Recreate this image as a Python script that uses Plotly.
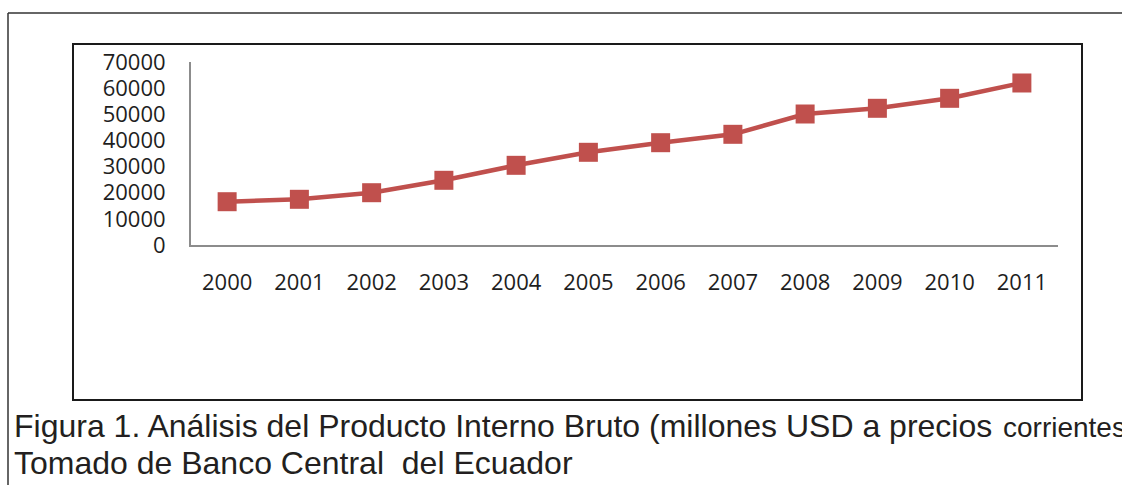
import plotly.graph_objects as go

years = ["2000", "2001", "2002", "2003", "2004", "2005", "2006", "2007", "2008", "2009", "2010", "2011"]
pib = [16560, 17480, 20000, 24750, 30480, 35460, 39130, 42340, 50110, 52290, 56110, 61970]
y_ticks = [0, 10000, 20000, 30000, 40000, 50000, 60000, 70000]

caption_1 = "Figura 1. Análisis del Producto Interno Bruto (millones USD a precios "
caption_1b = "corrientes)"
caption_2 = "Tomado de Banco Central  del Ecuador"
top_title = "Producto Interno Bruto"

W, H = 1122, 485
L, R, T, B = 191, 1058, 62, 245  # plot area in pixels


def px(x):
    return (x - L) / (R - L)


def py(y):
    return (B - y) / (B - T)


RED = "#C0504D"
tick_font = dict(family="Open Sans", size=22, color="#1e1e1e")

fig = go.Figure()
fig.add_trace(go.Scatter(
    x=years, y=pib, mode="lines+markers",
    line=dict(color=RED, width=4.5),
    marker=dict(symbol="square", size=19, color=RED),
    showlegend=False, cliponaxis=False,
))

fig.update_layout(
    width=W, height=H, autosize=False,
    margin=dict(l=L, r=W - R, t=T, b=H - B, pad=0),
    paper_bgcolor="white", plot_bgcolor="white",
    xaxis=dict(type="category", range=[-0.5, 11.5], showline=True,
               linecolor="#8c8c8c", linewidth=2, showgrid=False, zeroline=False,
               ticks="", tickfont=tick_font, ticklabelstandoff=17, fixedrange=True),
    yaxis=dict(range=[0, 70000], tickvals=y_ticks, tickformat="d", showline=True,
               linecolor="#8c8c8c", linewidth=2, showgrid=False, zeroline=False,
               ticks="", tickfont=tick_font, ticklabelstandoff=19, fixedrange=True),
)

# frames
fig.add_shape(type="rect", xref="paper", yref="paper",
              x0=px(73), x1=px(1082), y0=py(44), y1=py(400),
              line=dict(color="#1a1a1a", width=2), layer="below")
fig.add_shape(type="line", xref="paper", yref="paper",
              x0=px(8), x1=px(1140), y0=py(13), y1=py(13),
              line=dict(color="#333333", width=1.5))
fig.add_shape(type="line", xref="paper", yref="paper",
              x0=px(8), x1=px(8), y0=py(13), y1=py(500),
              line=dict(color="#333333", width=1.5))

cap_font = dict(family="Liberation Sans", size=32, color="#231f20")
fig.add_annotation(text=caption_1, xref="paper", yref="paper", x=px(12), y=py(426),
                   xanchor="left", yanchor="middle", showarrow=False, font=cap_font)
fig.add_annotation(text=caption_1b, xref="paper", yref="paper", x=px(1001), y=py(427),
                   xanchor="left", yanchor="middle", showarrow=False,
                   font=dict(family="Liberation Sans", size=28, color="#231f20"))
fig.add_annotation(text=caption_2, xref="paper", yref="paper", x=px(12), y=py(463),
                   xanchor="left", yanchor="middle", showarrow=False, font=cap_font)
fig.add_annotation(text=top_title, xref="paper", yref="paper", x=px(238), y=py(-10.5),
                   xanchor="left", yanchor="middle", showarrow=False,
                   font=dict(family="Liberation Sans", size=30, color="#555555"))

fig.write_html("out.html", config={"displayModeBar": False},
               post_script="document.body.style.margin='0';document.body.style.overflow='hidden';")
